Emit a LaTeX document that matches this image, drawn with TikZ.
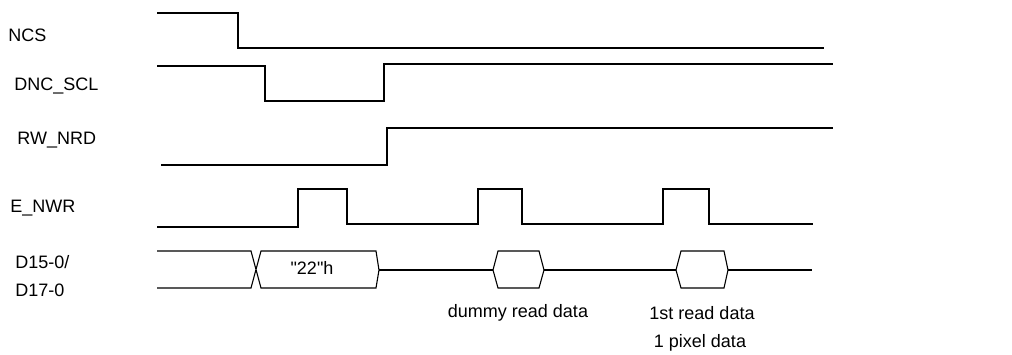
\documentclass[tikz,border=0pt]{standalone}
\usepackage{fontspec}
\setmainfont{Liberation Sans}[Ligatures=TeXOff]
\usetikzlibrary{positioning}

\begin{document}
\begin{tikzpicture}[x=0.5pt, y=-0.5pt, font=\fontsize{9}{11}\selectfont]

		\tikzstyle{sig}=[line width=0.7pt, black, line join=miter]
		\tikzstyle{bus}=[line width=0.55pt, black, line join=miter]
		\tikzstyle{lbl}=[anchor=west, inner sep=0pt, text=black]
		\tikzstyle{note}=[inner sep=0pt, text=black]

		\useasboundingbox (0,0) rectangle (1012,354);

		% Signal names
		\node[lbl] (ncs) at (8,35)   {NCS};
		\node[lbl] (dnc) at (14,86)  {DNC\_SCL};
		\node[lbl] (rw)  at (17,140) {RW\_NRD};
		\node[lbl] (enw) at (10,208) {E\_NWR};
		\node[lbl] (d15) at (15,262) {D15-0/};
		\node[lbl] (d17) at (15,290) {D17-0};

		% Control lines
		\draw[sig] (157,13) -- (238,13) -- (238,48) -- (824,48);
		\draw[sig] (157,66) -- (265,66) -- (265,101) -- (384,101) -- (384,64) -- (833,64);
		\draw[sig] (161,165) -- (387,165) -- (387,128) -- (833,128);

		% Write strobe
		\draw[bus] (157,227) -- (298,227) -- (298,189) -- (347,189) -- (347,224)
			-- (478,224) -- (478,189) -- (522,189) -- (522,224)
			-- (663,224) -- (663,189) -- (709,189) -- (709,224) -- (813,224);

		% Data bus
		\draw[bus] (157,251) -- (251,251) -- (261,288) -- (376,288) -- (379,270) -- (376,251) -- (261,251) -- (251,288) -- (157,288);
		\draw[bus] (493,270) -- (498,251) -- (539,251) -- (544,270) -- (539,288) -- (498,288) -- cycle;
		\draw[bus] (676,270) -- (681,251) -- (724,251) -- (728,270) -- (724,288) -- (681,288) -- cycle;
		\draw[bus] (379,270) -- (493,270);
		\draw[bus] (544,270) -- (676,270);
		\draw[bus] (728,270) -- (812,270);

		\node[note] (cmd)   at (312,268) {"22"h};
		\node[note] (dummy) at (518,313) {dummy read data};
		\node[note] (first) at (702,313) {1st read data};
		\node[note] (pixel) at (700,343) {1 pixel data};

\end{tikzpicture}
\end{document}
